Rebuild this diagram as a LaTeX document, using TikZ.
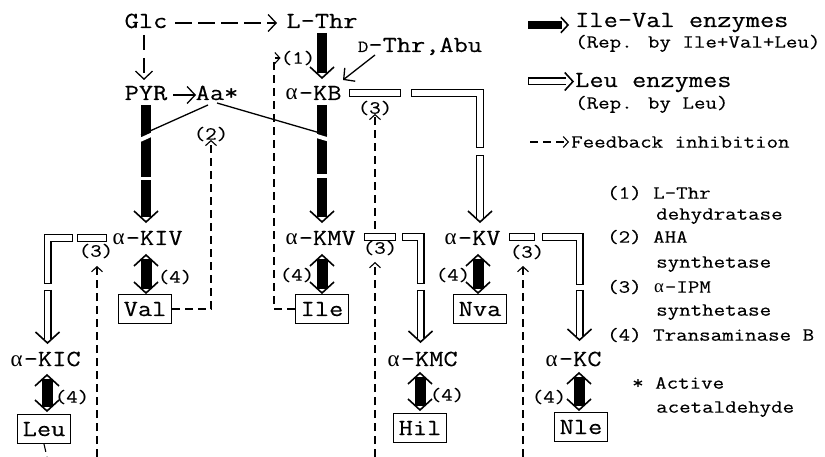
\documentclass[tikz,border=0pt]{standalone}
\usepackage{fontspec}
\setmainfont{Latin Modern Mono}[FakeStretch=1.2, FakeBold=0.3]
\newfontfamily\grk{Liberation Serif}
\newcommand\alp{\makebox[0.63em]{\grk α}}
\usetikzlibrary{arrows.meta}
\newcommand\hollseg[2]{%
  \draw[line width=8pt] #2;
  \draw[white, line width=5.6pt, #1] #2;}
\begin{document}
\begin{tikzpicture}[x=1pt,y=-1pt,
  lab/.style={font=\fontsize{23}{23}\selectfont, inner sep=0pt, text height=14pt, text depth=0pt},
  sm/.style={font=\fontsize{18.6}{18.6}\selectfont, inner sep=0pt, text height=11.4pt, text depth=0pt},
  bx/.style={lab, draw, line width=1pt, minimum width=53pt, minimum height=29pt},
  fb/.style={line width=1.1pt, dash pattern=on 8pt off 5pt, -{Straight Barb[length=5pt,width=11pt]}},
  thinarr/.style={line width=1.3pt, -{Straight Barb[length=8pt,width=17pt]}},
  bar/.style={line width=10pt},
  vhead/.pic={\draw[line width=1.6pt, line join=miter] (-12,-11) -- (0,0) -- (12,-11);},
]
\useasboundingbox (0,0) rectangle (825,457);

% ---------- text nodes ----------
\node[lab] (Glc) at (146,21) {Glc};
\node[lab] (LThr) at (322,21) {L-Thr};
\node[lab] (PYR) at (146,93) {PYR};
\node[lab] (Aa) at (217,93) {Aa*};
\node[lab] (KB) at (313,93) {\alp-KB};
\node[lab] (DThr) at (420,45) {{\fontsize{17}{17}\selectfont D}-Thr,Abu};
\node[lab] (KIV) at (147,238) {\alp-KIV};
\node[lab] (KMV) at (320,238) {\alp-KMV};
\node[lab] (KV) at (472,238) {\alp-KV};
\node[lab] (KIC) at (45,359) {\alp-KIC};
\node[lab] (KMC) at (422,359) {\alp-KMC};
\node[lab] (KC) at (573,359) {\alp-KC};

\node[bx] (Val) at (145,309) {Val};
\node[bx] (Ile) at (322,309) {Ile};
\node[bx] (Nva) at (480,309) {Nva};
\node[bx] (Leu) at (44,429) {Leu};
\node[bx] (Hil) at (420,428) {Hil};
\node[bx] (Nle) at (581,427) {Nle};

% enzyme labels
\node[sm] (e1) at (298,58) {(1)};
\node[sm] (e2) at (211,134) {(2)};
\node[sm] (e3a) at (375,108) {(3)};
\node[sm] (e3b) at (96,251) {(3)};
\node[sm] (e3c) at (380,248) {(3)};
\node[sm] (e3d) at (527,252) {(3)};
\node[sm] (e4a) at (175,277) {(4)};
\node[sm] (e4b) at (297,275) {(4)};
\node[sm] (e4c) at (453,275) {(4)};
\node[sm] (e4d) at (72,397) {(4)};
\node[sm] (e4e) at (447,395) {(4)};
\node[sm] (e4f) at (549,397) {(4)};

% ---------- thin arrows at the top ----------
\draw[thinarr, dash pattern=on 17pt off 6pt] (175,23) -- (277,23);
\draw[thinarr, dash pattern=on 15pt off 8pt] (144,35) -- (144,80);
\draw[thinarr] (173,95) -- (196,95);
\draw[thinarr] (375,55) -- (343,80);

% ---------- Ile-Val enzyme (black) arrows ----------
\draw[bar] (322,33) -- (322,73);
\pic at (322,78) {vhead};

\draw[bar] (146,105) -- (146,217);
\pic at (146,222) {vhead};
\draw[bar] (322,105) -- (322,217);
\pic at (322,222) {vhead};
% gaps in the bars
\draw[white, line width=4pt] (152,134.5) -- (136,141.8);
\draw[white, line width=3pt] (138,178.5) -- (154,178.5);
\draw[white, line width=4pt] (315,135.5) -- (330,140);
\draw[white, line width=4pt] (314,176) -- (330,176);
% Aa* joins
\draw[line width=1.3pt] (208,105) -- (141,135);
\draw[line width=1.3pt] (217,103) -- (327,135);

% reversible transaminase arrows
\foreach \xx/\ya/\yb in {146/255/293, 322/255/293, 478/255/293, 47/375/411, 420/373/410, 579/373/410}{
  \draw[line width=11pt] (\xx,\ya+4) -- (\xx,\yb-4);
  \pic[rotate=180] at (\xx,\ya) {vhead};
  \pic at (\xx,\yb) {vhead};
}

% ---------- Leu enzyme (hollow) arrows ----------
% from alpha-KB
\hollseg{shorten <=1.2pt, shorten >=1.2pt}{(349,93) -- (401,93)}
\hollseg{shorten <=1.2pt, shorten >=1.2pt}{(411,93) -- (480,93) -- (480,148)}
\hollseg{shorten <=1.2pt}{(480,155) -- (480,218)}
\pic at (480,222) {vhead};
% from alpha-KIV
\hollseg{shorten <=1.2pt, shorten >=1.2pt}{(107,238) -- (77,238)}
\hollseg{shorten <=1.2pt, shorten >=1.2pt}{(73,238) -- (47.5,238) -- (47.5,284)}
\hollseg{shorten <=1.2pt}{(47.5,290) -- (47.5,339)}
\pic at (47.5,343) {vhead};
% from alpha-KMV
\hollseg{shorten <=1.2pt, shorten >=1.2pt}{(364,237) -- (396,237)}
\hollseg{shorten <=1.2pt, shorten >=1.2pt}{(402,237) -- (420.5,237) -- (420.5,284)}
\hollseg{shorten <=1.2pt}{(420.5,290) -- (420.5,338)}
\pic at (420.5,342) {vhead};
% from alpha-KV
\hollseg{shorten <=1.2pt, shorten >=1.2pt}{(509,237) -- (535,237)}
\hollseg{shorten <=1.2pt, shorten >=1.2pt}{(542,237) -- (579.5,237) -- (579.5,285)}
\hollseg{shorten <=1.2pt}{(579.5,290) -- (579.5,336)}
\pic at (579.5,340) {vhead};

% ---------- feedback inhibition ----------
\coordinate (f1a) at (274,309);
\coordinate (f1b) at (274,58);
\draw[fb] (Ile.west) -- (f1a) -- (f1b) -- (e1.west);
\coordinate (f2a) at (211,309);
\draw[fb] (Val.east) -- (f2a) -- (e2.south);
\coordinate (b1) at (47,457);
\draw[line width=1.1pt, dash pattern=on 8pt off 5pt] (Leu.south) -- (b1);
\coordinate (b2) at (97,457);
\draw[fb] (b2) -- (97,266);
\coordinate (b3) at (375,457);
\draw[fb] (b3) -- (375,262);
\draw[fb] (375,229) -- (e3a.south);
\coordinate (b4) at (523,457);
\draw[fb] (b4) -- (523,266);

% ---------- legend ----------
\draw[line width=8pt] (528,25) -- (562,25);
\pic[rotate=90, scale=0.65] at (568,25) {vhead};
\node[lab, anchor=west] (L1) at (575,20) {Ile-Val enzymes};
\node[sm, anchor=west] (L1b) at (575,42) {(Rep. by Ile+Val+Leu)};
\hollseg{shorten <=1.2pt}{(528,81.5) -- (566,81.5)}
\pic[rotate=90, scale=0.75] at (573,81.5) {vhead};
\node[lab, anchor=west] (L2) at (575,80) {Leu enzymes};
\node[sm, anchor=west] (L2b) at (575,103) {(Rep. by Leu)};
\coordinate (L3s) at (530,142);
\draw[fb] (L3s) -- (569,142);
\node[sm, anchor=west] (L3) at (571,142) {Feedback inhibition};

\node[sm, anchor=west] (n1) at (607,193) {(1) L-Thr};
\node[sm, anchor=west] (n1b) at (656,214) {dehydratase};
\node[sm, anchor=west] (n2) at (607,237) {(2) AHA};
\node[sm, anchor=west] (n2b) at (656,262) {synthetase};
\node[sm, anchor=west] (n3) at (607,287) {(3) \alp-IPM};
\node[sm, anchor=west] (n3b) at (656,310) {synthetase};
\node[sm, anchor=west] (n4) at (607,335) {(4) Transaminase B};
\node[sm, anchor=west] (n5) at (632,383) {* Active};
\node[sm, anchor=west] (n5b) at (656,407) {acetaldehyde};
\end{tikzpicture}
\end{document}
